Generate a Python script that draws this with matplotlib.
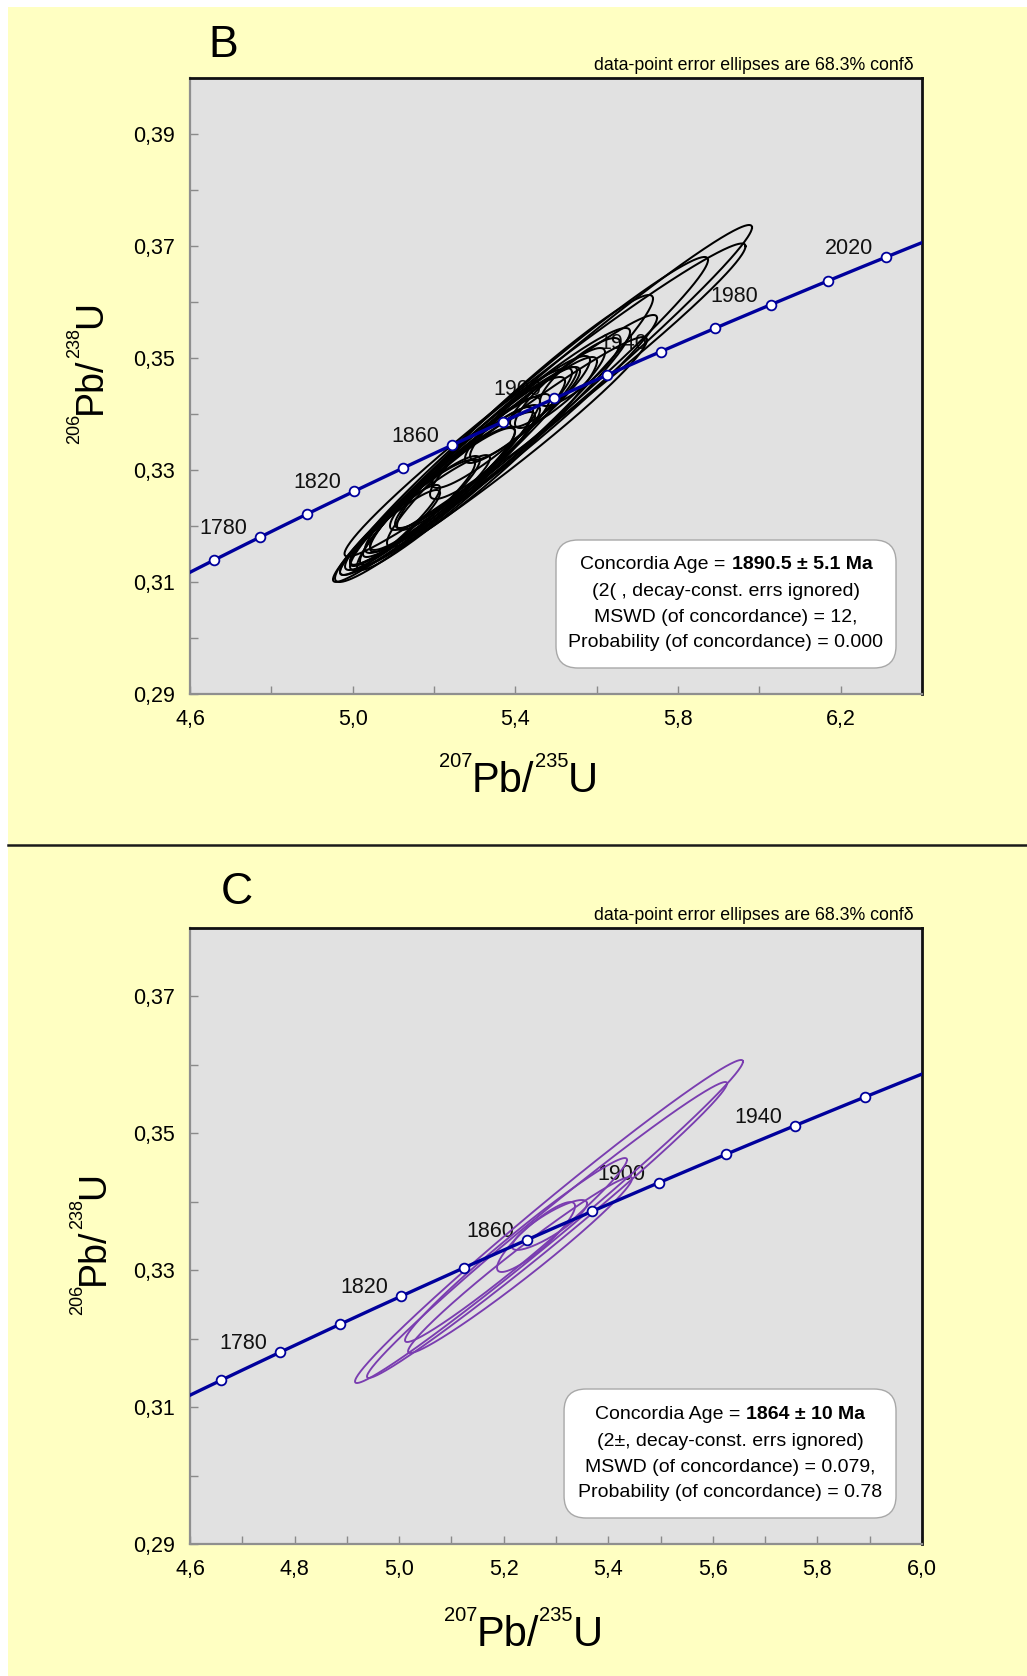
import numpy as np
import matplotlib
matplotlib.use("Agg")
import matplotlib.pyplot as plt
from matplotlib.patches import FancyBboxPatch, Rectangle
from matplotlib.lines import Line2D

plt.rcParams['font.family'] = ['Liberation Sans', 'DejaVu Sans']

W, H = 1027, 1676

# decay constants (per Ma)
L235 = 9.8485e-4
L238 = 1.55125e-4

# ---------------- Panel B data ----------------
B_marker_ages = [1760, 1780, 1800, 1820, 1840, 1860, 1880, 1900, 1920, 1940, 1960, 1980, 2000, 2020]
B_label_ages = [1780, 1820, 1860, 1900, 1940, 1980, 2020]
B_xc = [5.4668, 5.4730, 5.4336, 5.3746, 5.3869, 5.3623, 5.3463, 5.3426, 5.2725, 5.2848, 5.2307,
        5.5098, 5.4729, 5.4361, 5.3992, 5.3672, 5.3254, 5.2885, 5.2516, 5.2148, 5.1779, 5.1410,
        5.1041, 5.5590, 5.2025, 5.1656, 5.0918]
B_yc = [0.34188, 0.3425, 0.34054, 0.33670, 0.33607, 0.33536, 0.3325, 0.33321, 0.33027, 0.33116, 0.32714,
        0.34464, 0.34304, 0.34107, 0.33893, 0.3375, 0.33321, 0.33143, 0.32857, 0.32643, 0.32411, 0.32196,
        0.31964, 0.3475, 0.32518, 0.32286, 0.31929]
B_sx = [0.5152, 0.4930, 0.4402, 0.3639, 0.3615, 0.3197, 0.3775, 0.2582, 0.2791, 0.1758, 0.2127,
        0.1107, 0.0861, 0.1475, 0.1230, 0.1721, 0.1352, 0.1967, 0.1475, 0.1844, 0.1352, 0.1598,
        0.1107, 0.0984, 0.2459, 0.1721, 0.1230]
B_sy = [0.03187, 0.02795, 0.0275, 0.02455, 0.02161, 0.0200, 0.02125, 0.01696, 0.01813, 0.01188, 0.01411,
        0.00714, 0.00536, 0.00929, 0.00768, 0.01071, 0.00839, 0.01214, 0.00893, 0.01125, 0.00839, 0.00982,
        0.00679, 0.00607, 0.01518, 0.0098, 0.00804]
B_rho = [0.986, 0.982, 0.980, 0.972, 0.975, 0.965, 0.975, 0.955, 0.965, 0.935, 0.950,
         0.890, 0.860, 0.920, 0.900, 0.925, 0.900, 0.940, 0.920, 0.935, 0.920, 0.935,
         0.920, 0.860, 0.955, 0.945, 0.930]
B_xticks = [4.6, 5.0, 5.4, 5.8, 6.2]
B_xticklabels = ["4,6", "5,0", "5,4", "5,8", "6,2"]
B_xminor = [4.8, 5.2, 5.6, 6.0]
B_yticks = [0.29, 0.31, 0.33, 0.35, 0.37, 0.39]
B_yticklabels = ["0,29", "0,31", "0,33", "0,35", "0,37", "0,39"]
B_yminor = [0.30, 0.32, 0.34, 0.36, 0.38]
B_box_age = "1890.5 ± 5.1 Ma"
B_box_lines = ["(2( , decay-const. errs ignored)",
               "MSWD (of concordance) = 12,",
               "Probability (of concordance) = 0.000"]

# ---------------- Panel C data ----------------
C_marker_ages = [1760, 1780, 1800, 1820, 1840, 1860, 1880, 1900, 1920, 1940, 1960]
C_label_ages = [1780, 1820, 1860, 1900, 1940]
C_xc = [5.2866, 5.2828, 5.2235, 5.2312, 5.2618, 5.2876]
C_yc = [0.33712, 0.33588, 0.33295, 0.33076, 0.33485, 0.33661]
C_sx = [0.3710, 0.3443, 0.2123, 0.2142, 0.0746, 0.0717]
C_sy = [0.02360, 0.02162, 0.01344, 0.01286, 0.00511, 0.00365]
C_rho = [0.990, 0.990, 0.980, 0.980, 0.880, 0.860]
C_xticks = [4.6, 4.8, 5.0, 5.2, 5.4, 5.6, 5.8, 6.0]
C_xticklabels = ["4,6", "4,8", "5,0", "5,2", "5,4", "5,6", "5,8", "6,0"]
C_xminor = [4.7, 4.9, 5.1, 5.3, 5.5, 5.7, 5.9]
C_yticks = [0.29, 0.31, 0.33, 0.35, 0.37]
C_yticklabels = ["0,29", "0,31", "0,33", "0,35", "0,37"]
C_yminor = [0.30, 0.32, 0.34, 0.36, 0.38]
C_box_age = "1864 ± 10 Ma"
C_box_lines = ["(2±, decay-const. errs ignored)",
               "MSWD (of concordance) = 0.079,",
               "Probability (of concordance) = 0.78"]

YELLOW = '#ffffc2'
AXBG = '#e1e1e1'
BLUE = '#00009c'
PURPLE = '#7a3db0'

fig = plt.figure(figsize=(W / 100, H / 100), dpi=100, facecolor='white')
fig.add_artist(Rectangle((8 / W, 0), 1 - 8 / W, 1 - 7 / H, transform=fig.transFigure,
                         facecolor=YELLOW, edgecolor='none', zorder=-10))
fig.add_artist(Line2D([8 / W, 1], [1 - 845 / H, 1 - 845 / H], transform=fig.transFigure,
                      color='#1a1a1a', lw=1.8))
renderer = fig.canvas.get_renderer()
AX_W = 922 - 190


def px_axes(left, top, right, bottom):
    return fig.add_axes([left / W, 1 - bottom / H, (right - left) / W, (bottom - top) / H])


def style_axes(ax, xlim, ylim, xt, xtl, xm, yt, ytl, ym):
    ax.set_facecolor(AXBG)
    ax.set_xlim(*xlim)
    ax.set_ylim(*ylim)
    ax.set_xticks(xt)
    ax.set_xticklabels(xtl)
    ax.set_xticks(xm, minor=True)
    ax.set_yticks(yt)
    ax.set_yticklabels(ytl)
    ax.set_yticks(ym, minor=True)
    ax.tick_params(which='both', direction='in', length=6, width=1, color='#8a8a8a',
                   labelsize=15.5, pad=11, top=False, right=False)
    for s in ('top', 'right'):
        ax.spines[s].set_color('#111111')
        ax.spines[s].set_linewidth(2)
    for s in ('left', 'bottom'):
        ax.spines[s].set_color('#8f8f8f')
        ax.spines[s].set_linewidth(1.6)


def draw_ellipses(ax, xc, yc, sx, sy, rho, color, lw):
    t = np.linspace(0, 2 * np.pi, 400)
    for x0, y0, a, b, r in zip(xc, yc, sx, sy, rho):
        ex = x0 + a * np.cos(t)
        ey = y0 + b * (r * np.cos(t) + np.sqrt(1 - r * r) * np.sin(t))
        ax.plot(ex, ey, color=color, lw=lw, zorder=2)


def draw_concordia(ax, marker_ages, label_ages):
    t = np.linspace(1650, 2150, 800)
    ax.plot(np.expm1(L235 * t), np.expm1(L238 * t), color=BLUE, lw=2.4, zorder=3,
            solid_capstyle='butt')
    ma = np.array(marker_ages, dtype=float)
    ax.plot(np.expm1(L235 * ma), np.expm1(L238 * ma), 'o', ms=7, mfc='white', mec=BLUE,
            mew=1.3, zorder=4, clip_on=False)
    for age in label_ages:
        ax.annotate(str(age), xy=(np.expm1(L235 * age), np.expm1(L238 * age)),
                    xytext=(-9.3, 2.2), textcoords='offset points', ha='right', va='baseline',
                    fontsize=15.5, color='#111111', zorder=1)


def draw_box(ax, x0, x1, y0, y1, xc, ys, age, lines):
    aspect = (922 - 190) / (694 - 78)
    box = FancyBboxPatch((x0, y0), x1 - x0, y1 - y0, transform=ax.transAxes,
                         boxstyle="round,pad=0,rounding_size=0.03", mutation_aspect=aspect,
                         facecolor='white', edgecolor='#a8a8a8', lw=1.0, zorder=5)
    ax.add_patch(box)
    t1 = ax.text(0, ys[0], "Concordia Age =", transform=ax.transAxes, ha='left',
                 va='center', fontsize=14, zorder=6)
    t2 = ax.text(0, ys[0], age, transform=ax.transAxes, ha='left', va='center',
                 fontsize=14, fontweight='bold', zorder=6)
    w1 = t1.get_window_extent(renderer).width
    w2 = t2.get_window_extent(renderer).width
    gap = 6.5
    start = xc - (w1 + gap + w2) / 2 / AX_W
    t1.set_x(start)
    t2.set_x(start + (w1 + gap) / AX_W)
    for y, s in zip(ys[1:], lines):
        ax.text(xc, y, s, transform=ax.transAxes, ha='center', va='center', fontsize=14,
                zorder=6)


def xlabel_chain(ax, x_px, yb_top, size, ssize, raise_px):
    yb = H - yb_top
    m = ax.annotate("Pb/", xy=(x_px, yb), xycoords='figure pixels', ha='left',
                    va='baseline', fontsize=size)
    ax.annotate("207", xy=(0, yb + raise_px), xycoords=(m, 'figure pixels'), ha='right',
                va='baseline', fontsize=ssize)
    s2 = ax.annotate("235", xy=(1, yb + raise_px), xycoords=(m, 'figure pixels'), ha='left',
                     va='baseline', fontsize=ssize)
    ax.annotate("U", xy=(1, yb), xycoords=(s2, 'figure pixels'), ha='left', va='baseline',
                fontsize=size)


def ylabel_chain(ax, xb_px, y0_top, size, ssize, raise_px):
    y0 = H - y0_top
    kw = dict(rotation=90, rotation_mode='anchor')
    m = ax.annotate("Pb/", xy=(xb_px, y0), xycoords='figure pixels', ha='left',
                    va='baseline', fontsize=size, **kw)
    ax.annotate("206", xy=(xb_px - raise_px, 0), xycoords=('figure pixels', m), ha='right',
                va='baseline', fontsize=ssize, **kw)
    s2 = ax.annotate("238", xy=(xb_px - raise_px, 1), xycoords=('figure pixels', m),
                     ha='left', va='baseline', fontsize=ssize, **kw)
    ax.annotate("U", xy=(xb_px, 1), xycoords=('figure pixels', s2), ha='left',
                va='baseline', fontsize=size, **kw)


# ---------------- Panel B ----------------
axB = px_axes(190, 78, 922, 694)
style_axes(axB, (4.6, 6.4), (0.29, 0.40), B_xticks, B_xticklabels, B_xminor,
           B_yticks, B_yticklabels, B_yminor)
draw_ellipses(axB, B_xc, B_yc, B_sx, B_sy, B_rho, 'black', 1.45)
draw_concordia(axB, B_marker_ages, B_label_ages)
draw_box(axB, 0.500, 0.9645, 0.0422, 0.250, 0.7322,
         [0.2110, 0.1672, 0.1234, 0.0828], B_box_age, B_box_lines)
axB.text(0.0246, 1.052, "B", transform=axB.transAxes, fontsize=32, ha='left', va='center')
axB.text(0.989, 1.013, "data-point error ellipses are 68.3% confδ", transform=axB.transAxes,
         fontsize=12.8, ha='right', va='baseline')
xlabel_chain(axB, 472, 792, 30, 14.5, 25)
ylabel_chain(axB, 101, 414, 27, 13, 22)

# ---------------- Panel C ----------------
axC = px_axes(190, 928, 922, 1544)
style_axes(axC, (4.6, 6.0), (0.29, 0.38), C_xticks, C_xticklabels, C_xminor,
           C_yticks, C_yticklabels, C_yminor)
draw_ellipses(axC, C_xc, C_yc, C_sx, C_sy, C_rho, PURPLE, 1.35)
draw_concordia(axC, C_marker_ages, C_label_ages)
draw_box(axC, 0.511, 0.9645, 0.0422, 0.2516, 0.7377,
         [0.2110, 0.1672, 0.1250, 0.0828], C_box_age, C_box_lines)
axC.text(0.0423, 1.058, "C", transform=axC.transAxes, fontsize=32, ha='left', va='center')
axC.text(0.989, 1.013, "data-point error ellipses are 68.3% confδ", transform=axC.transAxes,
         fontsize=12.8, ha='right', va='baseline')
xlabel_chain(axC, 477, 1646, 30, 14.5, 25)
ylabel_chain(axC, 104, 1285, 27, 13, 22)

fig.savefig("out.png", dpi=100, facecolor=fig.get_facecolor())
